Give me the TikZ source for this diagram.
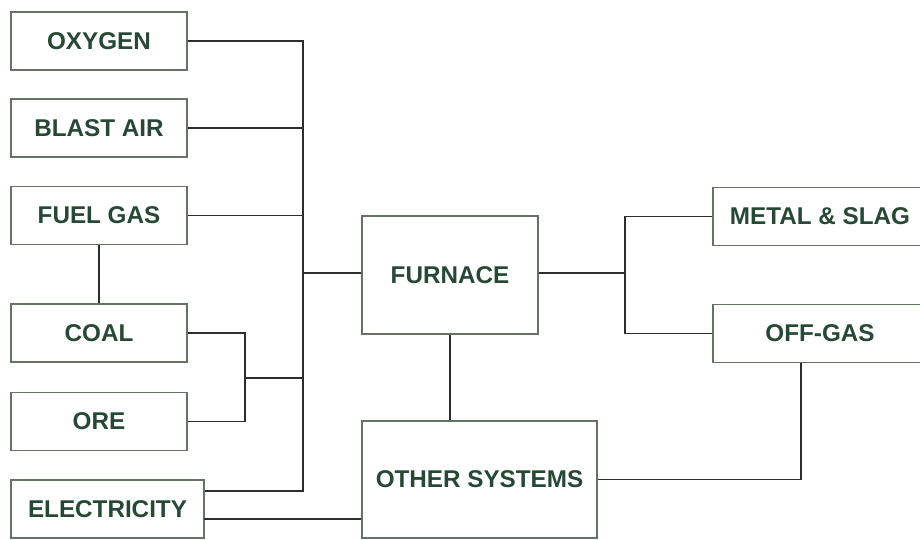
\documentclass[tikz,border=0pt]{standalone}
\usepackage{fontspec}
\setmainfont{Liberation Sans}
\usepackage{xcolor}
\usepackage{tikz}
\usetikzlibrary{positioning, calc}
\definecolor{boxgray}{RGB}{100, 115, 100}
\definecolor{labelgreen}{RGB}{38, 72, 52}
\definecolor{wiregray}{RGB}{45, 45, 45}

\begin{document}
\begin{tikzpicture}[x=0.02cm, y=-0.02cm,
    unit/.style={draw=boxgray, line width=1.1pt, fill=white, text=labelgreen,
        font=\fontsize{13.8}{16}\selectfont\bfseries,
        minimum width=3.52cm, minimum height=1.16cm, inner sep=0pt},
    wire/.style={draw=wiregray, line width=0.85pt}]
    \clip (0,0) rectangle (920,539);
    \fill[white] (0,0) rectangle (920,539);
    \node[unit] (oxygen) at (99,41) {OXYGEN};
    \node[unit] (blast) at (99,128) {BLAST AIR};
    \node[unit] (fuel) at (99,215.5) {FUEL GAS};
    \node[unit] (coal) at (99,333) {COAL};
    \node[unit] (ore) at (99,421.5) {ORE};
    \node[unit, minimum width=3.86cm] (elec) at (107.5,509) {ELECTRICITY};
    \node[unit, minimum height=2.36cm] (furnace) at (450,275) {FURNACE};
    \node[unit, minimum width=4.7cm, minimum height=2.34cm] (other) at (479.5,479.5) {OTHER SYSTEMS};
    \node[unit, minimum width=4.28cm] (metal) at (820,216.5) {METAL \& SLAG};
    \node[unit, minimum width=4.28cm] (offgas) at (820,333.5) {OFF-GAS};
    \coordinate (bustop) at (303,41);
    \coordinate (busbot) at (303,491);
    \coordinate (ccfork) at (245,378);
    \coordinate (outfork) at (625,273);
    \coordinate (gasdrop) at (801,479.5);
    \coordinate (elecfeed) at (204,519);
    \draw[wire] (oxygen.east) -- (bustop) -- (busbot) -- (elec.east |- busbot);
    \draw[wire] (blast.east) -- (blast.east -| bustop);
    \draw[wire] (fuel.east) -- (fuel.east -| bustop);
    \draw[wire] (fuel.south) -- (coal.north);
    \draw[wire] (coal.east) -| (ccfork) |- (ore.east);
    \draw[wire] (ccfork) -- (ccfork -| bustop);
    \draw[wire] (furnace.west |- outfork) -- (outfork -| bustop);
    \draw[wire] (furnace.south) -- (furnace.south |- other.north);
    \draw[wire] (furnace.east |- outfork) -- (outfork);
    \draw[wire] (metal.west) -- (metal.west -| outfork) -- (offgas.west -| outfork) -- (offgas.west);
    \draw[wire] (other.east) -- (gasdrop) -- (gasdrop |- offgas.south);
    \draw[wire] (elecfeed) -- (elecfeed -| other.west);
\end{tikzpicture}
\end{document}
